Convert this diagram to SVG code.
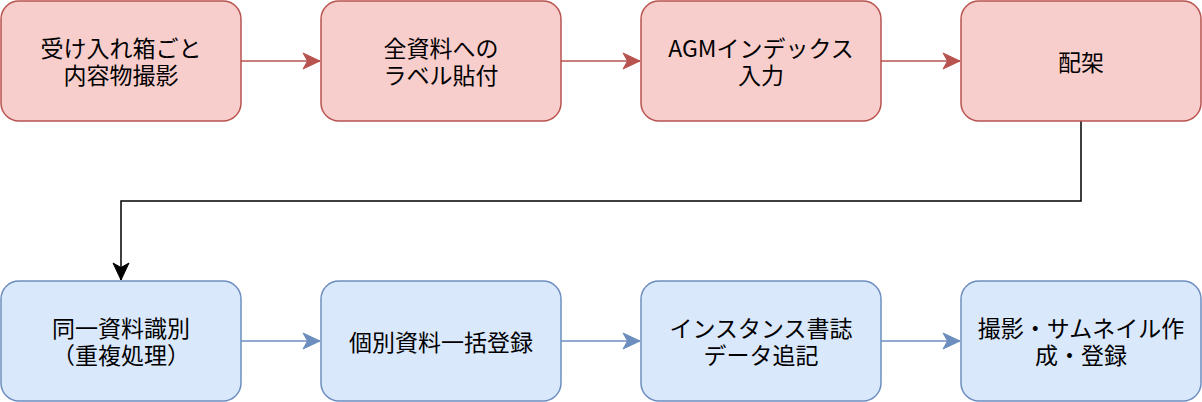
<svg xmlns="http://www.w3.org/2000/svg" width="1202" height="402" viewBox="0 0 1202 402">
<style>
.red rect{fill:#f8cecc;stroke:#b85450;stroke-width:1.5}
.blue rect{fill:#dae8fc;stroke:#6c8ebf;stroke-width:1.5}
text{font-family:"Noto Sans CJK JP","Noto Sans",sans-serif;font-size:23px;fill:#000;text-anchor:middle;dominant-baseline:central}
.e{fill:none;stroke-width:1.5}
</style>
<defs>
<marker id="aR" markerUnits="userSpaceOnUse" markerWidth="18" markerHeight="18" refX="17" refY="8" orient="auto" overflow="visible"><path d="M0,0 L17,8 L0,16 L4.5,8 Z" fill="#b85450" stroke="#b85450" stroke-width="1"/></marker>
<marker id="aB" markerUnits="userSpaceOnUse" markerWidth="18" markerHeight="18" refX="17" refY="8" orient="auto" overflow="visible"><path d="M0,0 L17,8 L0,16 L4.5,8 Z" fill="#6c8ebf" stroke="#6c8ebf" stroke-width="1"/></marker>
<marker id="aK" markerUnits="userSpaceOnUse" markerWidth="18" markerHeight="18" refX="17" refY="8" orient="auto" overflow="visible"><path d="M0,0 L17,8 L0,16 L4.5,8 Z" fill="#000" stroke="#000" stroke-width="1"/></marker>
</defs>
<g id="connectors">
<path class="e" stroke="#b85450" d="M241,61 H320" marker-end="url(#aR)"/>
<path class="e" stroke="#b85450" d="M561,61 H640" marker-end="url(#aR)"/>
<path class="e" stroke="#b85450" d="M881,61 H960" marker-end="url(#aR)"/>
<path class="e" stroke="#000" d="M1081,121 V201 H121 V280" marker-end="url(#aK)"/>
<path class="e" stroke="#6c8ebf" d="M241,341 H320" marker-end="url(#aB)"/>
<path class="e" stroke="#6c8ebf" d="M561,341 H640" marker-end="url(#aB)"/>
<path class="e" stroke="#6c8ebf" d="M881,341 H960" marker-end="url(#aB)"/>
</g>
<g id="n1" class="red"><rect x="1" y="1" width="240" height="120" rx="18"/><text x="121" y="47">受け入れ箱ごと<tspan x="121" dy="27">内容物撮影</tspan></text></g>
<g id="n2" class="red"><rect x="321" y="1" width="240" height="120" rx="18"/><text x="441" y="47">全資料への<tspan x="441" dy="27">ラベル貼付</tspan></text></g>
<g id="n3" class="red"><rect x="641" y="1" width="240" height="120" rx="18"/><text x="761" y="47">AGMインデックス<tspan x="761" dy="27">入力</tspan></text></g>
<g id="n4" class="red"><rect x="961" y="1" width="240" height="120" rx="18"/><text x="1081" y="61">配架</text></g>
<g id="n5" class="blue"><rect x="1" y="281" width="240" height="120" rx="18"/><text x="121" y="327">同一資料識別<tspan x="121" dy="27">（重複処理）</tspan></text></g>
<g id="n6" class="blue"><rect x="321" y="281" width="240" height="120" rx="18"/><text x="441" y="341">個別資料一括登録</text></g>
<g id="n7" class="blue"><rect x="641" y="281" width="240" height="120" rx="18"/><text x="761" y="327">インスタンス書誌<tspan x="761" dy="27">データ追記</tspan></text></g>
<g id="n8" class="blue"><rect x="961" y="281" width="240" height="120" rx="18"/><text x="1081" y="327">撮影・サムネイル作<tspan x="1081" dy="27">成・登録</tspan></text></g>
</svg>
